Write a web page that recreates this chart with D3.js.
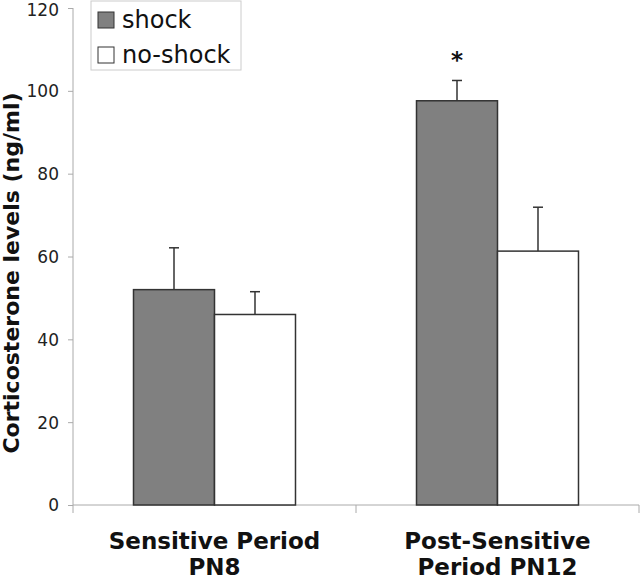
<!DOCTYPE html>
<html><head><meta charset="utf-8">
<script src="https://cdn.jsdelivr.net/npm/d3@7"></script>
<style>body{margin:0;background:#fff}svg{display:block}</style>
</head><body>
<script>
const categories = [["Sensitive Period","PN8"],["Post-Sensitive","Period PN12"]];
const categoryKeys = ["PN8","PN12"];
const series = ["shock","no-shock"];
const shockValues = [52, 97.6];
const shockErrors = [10.1, 4.9];
const noShockValues = [46, 61.3];
const noShockErrors = [5.5, 10.6];
const yTicks = [0,20,40,60,80,100,120];
const significant = [false, true];

const W = 640, H = 581;
const svg = d3.select("body").append("svg").attr("width", W).attr("height", H);
const font = "DejaVu Sans, Verdana, sans-serif";

const x0 = d3.scaleBand().domain(categoryKeys).range([73, 639]).padding(0);
const x1 = d3.scaleBand().domain(series).range([0, x0.bandwidth()]).paddingInner(0).paddingOuter(0.747);
const y = d3.scaleLinear().domain([0, 120]).range([505, 8]);

const axisColor = "#aaaaaa";

// y axis
const yAxis = svg.append("g").attr("transform", "translate(73,0)")
  .call(d3.axisLeft(y).tickValues(yTicks).tickSize(5).tickPadding(9).tickFormat(d3.format("d")));
yAxis.select(".domain").remove();
yAxis.selectAll(".tick line").attr("stroke", axisColor);
yAxis.selectAll(".tick text").attr("font-family", font).attr("font-size", 17).attr("fill", "#222")
  .attr("dy", d => d === 120 ? "0.42em" : "0.35em");
svg.append("line").attr("x1", 73).attr("x2", 73).attr("y1", y(120)).attr("y2", 513).attr("stroke", axisColor);

// x axis
svg.append("line").attr("x1", 73).attr("x2", 639).attr("y1", y(0)).attr("y2", y(0)).attr("stroke", axisColor);
const xb = [x0(categoryKeys[0]), x0(categoryKeys[1]), x0(categoryKeys[1]) + x0.bandwidth()];
svg.selectAll("line.xt").data(xb.slice(1)).enter().append("line").attr("class","xt")
  .attr("x1", d => d).attr("x2", d => d).attr("y1", y(0)).attr("y2", 513).attr("stroke", axisColor);

// bars
const rows = categoryKeys.map((k, i) => ({
  key: k,
  vals: [
    {s: "shock", v: shockValues[i], e: shockErrors[i]},
    {s: "no-shock", v: noShockValues[i], e: noShockErrors[i]}
  ]
}));
const fill = {"shock": "#808080", "no-shock": "#ffffff"};

const groups = svg.selectAll("g.grp").data(rows).enter().append("g").attr("class","grp")
  .attr("transform", d => `translate(${x0(d.key)},0)`);

// error bars (behind bars)
groups.selectAll("g.err").data(d => d.vals).enter().append("g").attr("class","err").each(function(d){
  const g = d3.select(this);
  const cx = x1(d.s) + x1.bandwidth()/2;
  g.append("line").attr("x1", cx).attr("x2", cx).attr("y1", y(d.v)).attr("y2", y(d.v + d.e))
    .attr("stroke", "#333").attr("stroke-width", 1.5);
  g.append("line").attr("x1", cx - 5).attr("x2", cx + 5).attr("y1", y(d.v + d.e)).attr("y2", y(d.v + d.e))
    .attr("stroke", "#333").attr("stroke-width", 1.5);
});

groups.selectAll("rect").data(d => d.vals).enter().append("rect")
  .attr("x", d => x1(d.s)).attr("width", x1.bandwidth())
  .attr("y", d => y(d.v)).attr("height", d => y(0) - y(d.v))
  .attr("fill", d => fill[d.s]).attr("stroke", "#333").attr("stroke-width", 1.5);

// asterisks
categoryKeys.forEach((k, i) => {
  if (!significant[i]) return;
  svg.append("text").attr("x", x0(k) + x1("shock") + x1.bandwidth()/2)
    .attr("y", y(shockValues[i] + shockErrors[i]) - 12)
    .attr("text-anchor", "middle").attr("font-family", font).attr("font-weight", "bold")
    .attr("font-size", 23).attr("fill", "#111").text("*");
});

// x labels
categories.forEach((lines, i) => {
  const cx = x0(categoryKeys[i]) + x0.bandwidth()/2;
  lines.forEach((t, j) => {
    svg.append("text").attr("x", cx).attr("y", 549 + j*26)
      .attr("text-anchor", "middle").attr("font-family", font).attr("font-weight", "bold")
      .attr("font-size", 23).attr("fill", "#111").text(t);
  });
});

// y title
svg.append("text").attr("transform", "translate(19,273) rotate(-90)")
  .attr("text-anchor", "middle").attr("font-family", font).attr("font-weight", "bold")
  .attr("font-size", 22).attr("fill", "#111").text("Corticosterone levels (ng/ml)");

// legend
const lg = svg.append("g");
lg.append("rect").attr("x", 91).attr("y", 1).attr("width", 150).attr("height", 69)
  .attr("fill", "#fff").attr("stroke", "#cccccc");
series.forEach((s, i) => {
  lg.append("rect").attr("x", 98).attr("y", 12 + i*35).attr("width", 16).attr("height", 16)
    .attr("fill", fill[s]).attr("stroke", "#333").attr("stroke-width", 1);
  lg.append("text").attr("x", 122).attr("y", 28 + i*35).attr("font-family", font)
    .attr("font-size", 24).attr("fill", "#111").text(s);
});
</script>
</body></html>
